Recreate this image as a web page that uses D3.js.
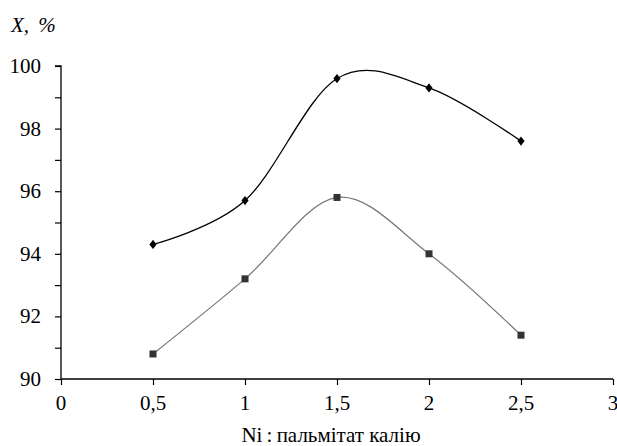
<!DOCTYPE html>
<html><head><meta charset="utf-8">
<script src="https://cdn.jsdelivr.net/npm/d3@7"></script>
<style>
html,body{margin:0;padding:0;background:#fff;}
svg{display:block;font-family:'Liberation Serif',Tinos,'Times New Roman';}
.t{font-family:'Liberation Serif',Tinos,'Times New Roman' !important;}
</style>
</head><body>
<svg id="c" width="617" height="446" font-family="Liberation Serif"></svg>
<script>
const xValues = [0.5, 1, 1.5, 2, 2.5];
const seriesUpper = [94.3, 95.7, 99.6, 99.3, 97.6];
const seriesLower = [90.8, 93.2, 95.8, 94.0, 91.4];
const xTickValues = [0, 0.5, 1, 1.5, 2, 2.5, 3];
const xTickLabels = ["0", "0,5", "1", "1,5", "2", "2,5", "3"];
const yTickValues = [90, 91, 92, 93, 94, 95, 96, 97, 98, 99, 100];
const yLabelValues = [90, 92, 94, 96, 98, 100];
const yTitle = "X, %";
const xTitle = "Ni\u2009:\u2009пальмітат калію";

const svg = d3.select("#c");
const x = d3.scaleLinear().domain([0, 3]).range([61, 613]);
const y = d3.scaleLinear().domain([90, 100]).range([379, 66]);

// y axis
const yAxis = d3.axisLeft(y).tickValues(yTickValues).tickSize(6).tickFormat("");
const gy = svg.append("g").attr("transform", `translate(${x(0)},0)`).call(yAxis);
gy.select(".domain").attr("stroke", "#000").attr("stroke-width", 1.3).attr("d", `M-6,${y(100)}H0V${y(90)}`);
gy.selectAll(".tick line").attr("stroke", "#000").attr("stroke-width", 1.2);
gy.attr("font-family", null).attr("font-size", null);

// x axis
const xAxis = d3.axisBottom(x).tickValues(xTickValues).tickSize(6).tickFormat("");
const gx = svg.append("g").attr("transform", `translate(0,${y(90)})`).call(xAxis);
gx.select(".domain").attr("stroke", "#000").attr("stroke-width", 1.3).attr("d", `M${x(0)},0H${x(3)}`);
gx.selectAll(".tick line").attr("stroke", "#000").attr("stroke-width", 1.2);
gx.attr("font-family", null).attr("font-size", null);

yLabelValues.forEach(v => {
  svg.append("text").attr("class", "t").attr("x", 41).attr("y", y(v) + 7)
    .attr("text-anchor", "end").attr("font-size", 21).text(v);
});
xTickValues.forEach((v, i) => {
  svg.append("text").attr("class", "t").attr("x", x(v)).attr("y", 410)
    .attr("text-anchor", "middle").attr("font-size", 21).text(xTickLabels[i]);
});

// titles
svg.append("text").attr("class", "t").attr("x", 11).attr("y", 32).attr("font-size", 21)
  .attr("font-style", "italic").attr("word-spacing", 4).text(yTitle);
svg.append("text").attr("class", "t").attr("x", 331).attr("y", 442).attr("text-anchor", "middle")
  .attr("font-size", 21).text(xTitle);

const line = d3.line().x((d, i) => x(xValues[i])).y(d => y(d)).curve(d3.curveCardinal.tension(0));

svg.append("path").attr("d", line(seriesLower)).attr("fill", "none")
  .attr("stroke", "#777").attr("stroke-width", 1.2);
svg.append("path").attr("d", line(seriesUpper)).attr("fill", "none")
  .attr("stroke", "#000").attr("stroke-width", 1.3);

svg.append("g").selectAll("rect").data(seriesLower).join("rect")
  .attr("x", (d, i) => x(xValues[i]) - 3.5).attr("y", d => y(d) - 3.5)
  .attr("width", 7).attr("height", 7).attr("fill", "#333");
svg.append("g").selectAll("path").data(seriesUpper).join("path")
  .attr("d", d3.symbol().type(d3.symbolDiamond).size(34))
  .attr("transform", (d, i) => `translate(${x(xValues[i])},${y(d)}) scale(1.15,0.85)`)
  .attr("fill", "#000");
</script>
</body></html>
